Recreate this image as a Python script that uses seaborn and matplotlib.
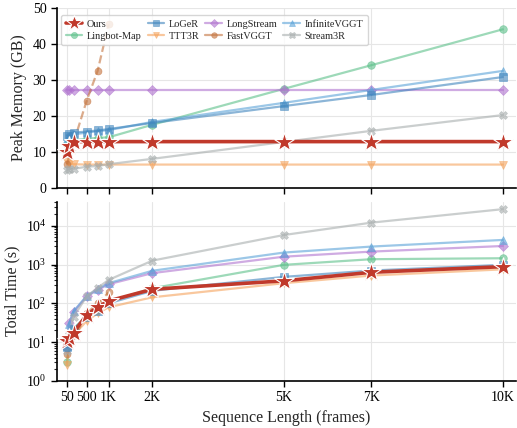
import numpy as np
import pandas as pd
import matplotlib
matplotlib.use("Agg")
import matplotlib.pyplot as plt
import seaborn as sns
from matplotlib.lines import Line2D

# ---------------- data ----------------
methods = ["Ours", "Lingbot-Map", "LoGeR", "TTT3R", "LongStream", "FastVGGT", "InfiniteVGGT", "Stream3R"]

x_full = [50, 100, 200, 500, 750, 1000, 2000, 5000, 7000, 10000]
x_fast = [50, 500, 750, 1000]

ours_mem = [9.9, 11.7, 12.8, 12.8, 12.8, 12.8, 12.8, 12.8, 12.8, 12.8]
lingbot_mem = [12.0, 12.8, 13.2, 13.6, 13.8, 14.0, 17.5, 27.5, 34.1, 44.1]
loger_mem = [14.5, 15.0, 15.3, 15.6, 15.9, 16.3, 18.0, 22.7, 25.8, 30.8]
ttt3r_mem = [7.0, 6.6, 6.5, 6.4, 6.4, 6.4, 6.4, 6.4, 6.4, 6.4]
longstream_mem = [27.2, 27.2, 27.2, 27.2, 27.2, 27.2, 27.2, 27.2, 27.2, 27.2]
fast_mem = [6.5, 24.2, 32.5, 45.5]
infinite_mem = [13.5, 14.2, 14.8, 15.3, 15.7, 16.0, 18.3, 23.6, 27.2, 32.5]
stream3r_mem = [5.0, 5.1, 5.2, 5.8, 6.0, 6.5, 8.0, 12.7, 15.8, 20.2]

ours_t = [11.0, 12.6, 17.6, 50, 80, 115, 230, 380, 630, 880]
lingbot_t = [3.0, 10, 22, 48, 72, 110, 245, 980, 1370, 1450]
loger_t = [7.5, 12, 22, 45, 65, 100, 210, 480, 700, 980]
ttt3r_t = [2.6, 8, 15, 35, 55, 79, 143, 330, 520, 750]
longstream_t = [7.0, 31, 60, 150, 220, 310, 600, 1590, 2150, 3000]
fast_t = [5.0, 55, 100, 190]
infinite_t = [8.0, 30, 62, 155, 230, 330, 690, 2030, 2900, 4300]
stream3r_t = [6.0, 15, 45, 150, 250, 400, 1260, 5750, 12000, 26700]

tick_vals = [50, 500, 1000, 2000, 5000, 7000, 10000]
tick_labels = ["50", "500", "1K", "2K", "5K", "7K", "10K"]

# ---------------- style ----------------
sns.set_theme(style="ticks")
plt.rcParams["font.family"] = ["Liberation Serif", "DejaVu Serif"]
plt.rcParams["mathtext.fontset"] = "stix"

series = {
    "Ours": (x_full, ours_mem, ours_t),
    "Lingbot-Map": (x_full, lingbot_mem, lingbot_t),
    "LoGeR": (x_full, loger_mem, loger_t),
    "TTT3R": (x_full, ttt3r_mem, ttt3r_t),
    "LongStream": (x_full, longstream_mem, longstream_t),
    "FastVGGT": (x_fast, fast_mem, fast_t),
    "InfiniteVGGT": (x_full, infinite_mem, infinite_t),
    "Stream3R": (x_full, stream3r_mem, stream3r_t),
}

styles = {
    "Ours": dict(color="#c0392b", marker="*", ms=15, lw=2.6, alpha=1.0, ls="-", mec="white", mew=0.8, z=10),
    "Lingbot-Map": dict(color="#5cc08a", marker="o", ms=5.5, lw=1.6, alpha=0.6, ls="-", mec=None, mew=0.5, z=3),
    "LoGeR": dict(color="#3f85bd", marker="s", ms=6, lw=1.6, alpha=0.6, ls="-", mec=None, mew=0.5, z=4),
    "TTT3R": dict(color="#f5a35c", marker="v", ms=6, lw=1.6, alpha=0.6, ls="-", mec=None, mew=0.5, z=3),
    "LongStream": dict(color="#b073cf", marker="D", ms=5, lw=1.6, alpha=0.6, ls="-", mec=None, mew=0.5, z=3),
    "FastVGGT": dict(color="#c4743f", marker="o", ms=5, lw=1.6, alpha=0.6, ls="--", mec=None, mew=0.5, z=3),
    "InfiniteVGGT": dict(color="#5aa3d8", marker="^", ms=6, lw=1.6, alpha=0.6, ls="-", mec=None, mew=0.5, z=3),
    "Stream3R": dict(color="#a8aeae", marker="X", ms=5.5, lw=1.6, alpha=0.6, ls="-", mec=None, mew=0.5, z=3),
}

fig, (ax1, ax2) = plt.subplots(2, 1, figsize=(5.17, 4.28), dpi=100, sharex=True)
fig.subplots_adjust(left=0.110, right=0.998, top=0.981, bottom=0.110, hspace=0.078)

for name in methods:
    xs, mem, tt = series[name]
    st = styles[name]
    for ax, ys in ((ax1, mem), (ax2, tt)):
        df = pd.DataFrame({"x": xs, "y": ys})
        sns.lineplot(data=df, x="x", y="y", ax=ax, color=st["color"], marker=st["marker"],
                     markersize=st["ms"], linewidth=st["lw"], alpha=st["alpha"], linestyle=st["ls"],
                     markeredgecolor=st["mec"] if st["mec"] else st["color"], markeredgewidth=st["mew"],
                     zorder=st["z"], legend=False)

for ax in (ax1, ax2):
    ax.set_xlim(-180, 10300)
    ax.set_xticks(tick_vals)
    ax.set_xticklabels(tick_labels)
    ax.grid(True, color="#e6e6e6", linewidth=0.8, which="major")
    ax.set_axisbelow(True)
    ax.tick_params(labelsize=10, length=4, width=1, colors="black")
    for s in ("left", "bottom"):
        ax.spines[s].set_color("black")
        ax.spines[s].set_linewidth(1.2)
    sns.despine(ax=ax)

ax1.set_ylim(0, 50)
ax1.set_yticks([0, 10, 20, 30, 40, 50])
ax1.set_ylabel("Peak Memory (GB)", fontsize=11.5)
ax1.set_xlabel("")
ax1.tick_params(axis="x", labelbottom=False)

ax2.set_yscale("log")
ax2.set_ylim(1, 4.2e4)
ax2.set_yticks([1, 10, 100, 1000, 10000])
ax2.set_ylabel("Total Time (s)", fontsize=11.5)
ax2.set_xlabel("Sequence Length (frames)", fontsize=11.5)
ax2.tick_params(axis="y", which="minor", length=2, width=0.8)

handles = []
for name in methods:
    st = styles[name]
    handles.append(Line2D([], [], color=st["color"], marker=st["marker"],
                          markersize=st["ms"] * 0.8 if name != "Ours" else 12, linewidth=st["lw"], alpha=st["alpha"],
                          linestyle="-", markeredgecolor=st["mec"] if st["mec"] else st["color"],
                          markeredgewidth=st["mew"], label=name))
leg = ax1.legend(handles=handles, ncol=4, loc="upper left", fontsize=7.4, frameon=True,
                 handlelength=1.6, columnspacing=0.6, handletextpad=0.45, labelspacing=0.25,
                 borderpad=0.45, borderaxespad=0.4, bbox_to_anchor=(0.0, 0.985))
leg.get_frame().set_edgecolor("#cccccc")
leg.get_frame().set_linewidth(1.0)

fig.savefig("out.png", dpi=100)
